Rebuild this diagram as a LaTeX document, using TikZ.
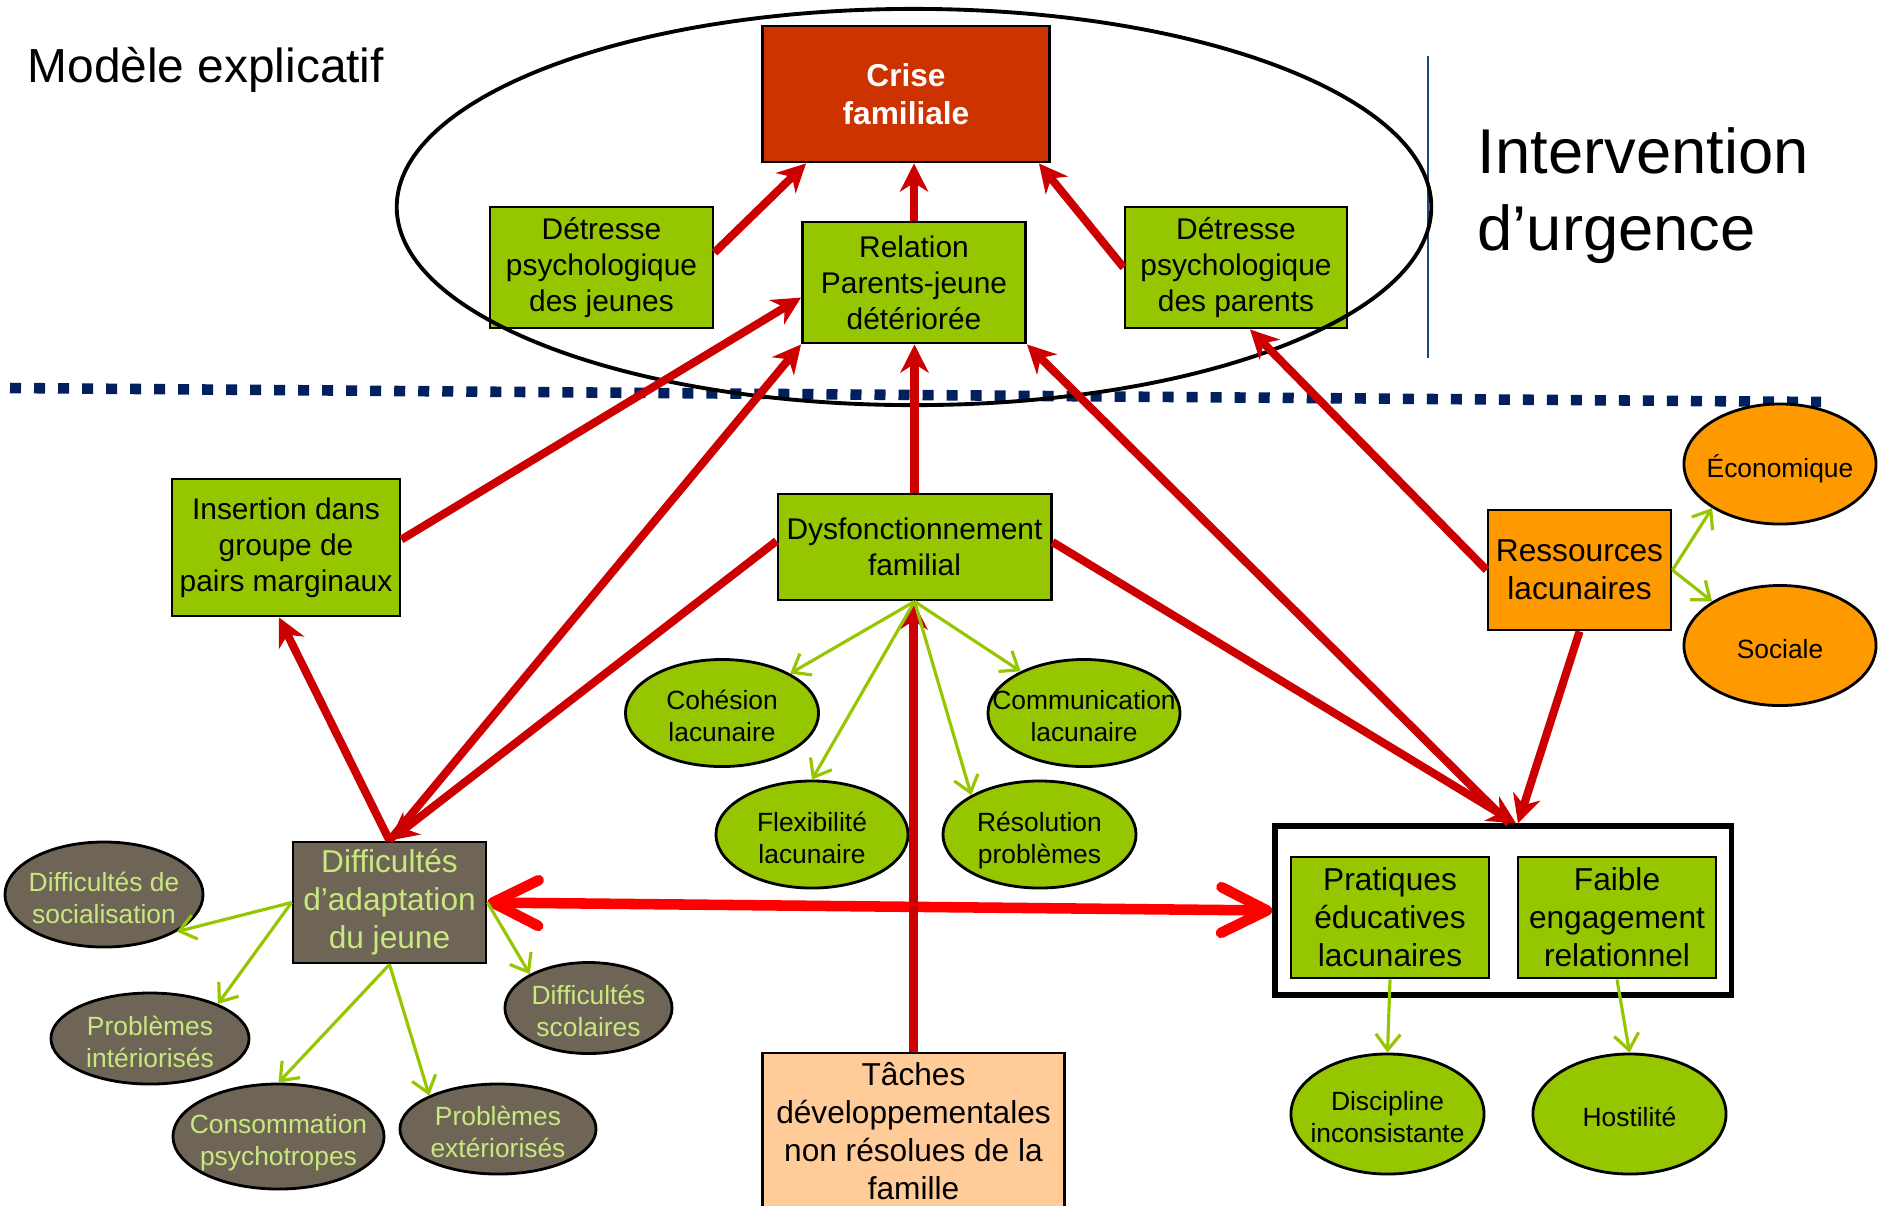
\documentclass[tikz,border=0pt]{standalone}
\usepackage{fontspec}
\setmainfont{Liberation Sans}
\usetikzlibrary{shapes.geometric,arrows.meta}
\definecolor{rouge}{RGB}{204,0,0}
\definecolor{rougevif}{RGB}{255,0,0}
\definecolor{vert}{RGB}{150,198,0}
\definecolor{brique}{RGB}{204,51,0}
\definecolor{taupe}{RGB}{111,101,86}
\definecolor{vertclair}{RGB}{200,232,128}
\definecolor{orangevif}{RGB}{255,153,0}
\definecolor{peche}{RGB}{255,204,153}
\definecolor{marine}{RGB}{0,32,96}
\definecolor{bleu}{RGB}{31,73,125}
\newcommand{\ovale}[1]{\raisebox{-1.8pt}[\height][\depth]{\makebox[0pt]{\begin{tabular}{@{}c@{}}#1\end{tabular}}}}
\tikzset{
	boite/.style={draw, thick, inner sep=0pt, align=center, font=\fontsize{9}{10.8}\selectfont},
	bvert/.style={boite, fill=vert},
	bpetit/.style={bvert, font=\fontsize{8.5}{10.2}\selectfont},
	ovale/.style={ellipse, draw, thick, inner sep=0pt, font=\fontsize{7.5}{9}\selectfont},
	overt/.style={ovale, fill=vert},
	otaupe/.style={ovale, fill=taupe, text=vertclair},
	oorange/.style={ovale, fill=orangevif},
	lien/.style={draw=rouge, line width=2.3pt, -{Stealth[length=8pt,width=8pt,inset=2.5pt]}},
	doublefleche/.style={draw=rougevif, line width=3pt, {Straight Barb[round,length=13pt,width=13pt]}-{Straight Barb[round,length=13pt,width=13pt]}},
	attr/.style={draw=vert, line width=0.9pt, -{Straight Barb[length=4.5pt,width=7pt]}}
}
\begin{document}
\begin{tikzpicture}[x=0.01cm, y=-0.01cm]
	\useasboundingbox (0,0) rectangle (1879,1205);
	\draw [marine, line width=3pt, dash pattern=on 0.11cm off 0.13cm] (10,388) -- (1821,402);
	\draw [bleu, line width=0.8pt] (1428,56) -- (1428,358);
	\node [anchor=base west, inner sep=0pt, font=\fontsize{13.6}{16}\selectfont] (titre) at (27,82) {Modèle explicatif};
	\node [anchor=north west, align=left, inner sep=0pt, font=\fontsize{18}{22}\selectfont] (urgence) at (1477,127) {Intervention\\d’urgence};
	\node [boite, fill=brique, text=white, font=\bfseries\fontsize{9}{10.8}\selectfont, minimum width=2.87cm, minimum height=1.36cm] (cf) at (906,94) {Crise\\familiale};
	\node [bpetit, minimum width=2.23cm, minimum height=1.21cm] (dj) at (601.5,267.5) {Détresse\\psychologique\\des jeunes};
	\node [bpetit, minimum width=2.23cm, minimum height=1.21cm] (rel) at (914,282.5) {Relation\\Parents-jeune\\détériorée};
	\node [bpetit, minimum width=2.22cm, minimum height=1.21cm] (dp) at (1236,267.5) {Détresse\\psychologique\\des parents};
	\node [bpetit, minimum width=2.28cm, minimum height=1.37cm] (ins) at (286,547.5) {Insertion dans\\groupe de\\pairs marginaux};
	\node [bpetit, minimum width=2.73cm, minimum height=1.06cm] (dys) at (914.5,547) {Dysfonctionnement\\familial};
	\node [boite, fill=taupe, text=vertclair, minimum width=1.93cm, minimum height=1.21cm] (dad) at (389.5,902.5) {Difficultés\\d’adaptation\\du jeune};
	\node [boite, fill=peche, minimum width=3.02cm, minimum height=1.56cm] (tac) at (913.5,1131) {Tâches\\développementales\\non résolues de la\\famille};
	\node [boite, fill=orangevif, minimum width=1.83cm, minimum height=1.2cm] (res) at (1579.5,570) {Ressources\\lacunaires};
	\node [draw, line width=1.5pt, minimum width=4.56cm, minimum height=1.69cm] (cadre) at (1503,910.5) {};
	\node [bvert, minimum width=1.98cm, minimum height=1.21cm] (pra) at (1390,917.5) {Pratiques\\éducatives\\lacunaires};
	\node [bvert, minimum width=1.98cm, minimum height=1.21cm] (fai) at (1617,917.5) {Faible\\engagement\\relationnel};
	\node [overt, minimum width=1.93cm, minimum height=1.07cm] (coh) at (722,713) {\ovale{Cohésion\\lacunaire}};
	\node [overt, minimum width=1.92cm, minimum height=1.07cm] (com) at (1084,713) {\ovale{Communication\\lacunaire}};
	\node [overt, minimum width=1.92cm, minimum height=1.07cm] (fle) at (812,834.5) {\ovale{Flexibilité\\lacunaire}};
	\node [overt, minimum width=1.93cm, minimum height=1.07cm] (reso) at (1039.5,834.5) {\ovale{Résolution\\problèmes}};
	\node [otaupe, minimum width=1.98cm, minimum height=1.05cm] (soc) at (104,894.5) {\ovale{Difficultés de\\socialisation}};
	\node [otaupe, minimum width=1.98cm, minimum height=0.91cm] (inter) at (150,1038.5) {\ovale{Problèmes\\intériorisés}};
	\node [otaupe, minimum width=2.11cm, minimum height=1.05cm] (conso) at (278.5,1136.5) {\ovale{Consommation\\psychotropes}};
	\node [otaupe, minimum width=1.96cm, minimum height=0.9cm] (exte) at (498,1129) {\ovale{Problèmes\\extériorisés}};
	\node [otaupe, minimum width=1.67cm, minimum height=0.91cm] (scol) at (588.5,1008) {\ovale{Difficultés\\scolaires}};
	\node [oorange, minimum width=1.92cm, minimum height=1.2cm] (eco) at (1780,464) {\ovale{Économique}};
	\node [oorange, minimum width=1.92cm, minimum height=1.2cm] (soci) at (1780,645.5) {\ovale{Sociale}};
	\node [overt, minimum width=1.93cm, minimum height=1.2cm] (disc) at (1387.5,1114) {\ovale{Discipline\\inconsistante}};
	\node [overt, minimum width=1.93cm, minimum height=1.2cm] (host) at (1629.5,1114) {\ovale{Hostilité}};
	\draw [line width=1.1pt] (914,207) ellipse [x radius=5.17cm, y radius=1.98cm];
	\draw [lien] ([yshift=1.5mm]dj.east) -- ([xshift=4.5mm]cf.south west);
	\draw [lien] (rel.north) -- (rel.north |- cf.south);
	\draw [lien] (dp.west) -- ([xshift=-1.2mm]cf.south east);
	\draw [lien] ([yshift=0.8mm]ins.east) -- ([yshift=-1.5mm]rel.west);
	\draw [lien] (dad.north) -- (rel.south west);
	\draw [lien] ([yshift=0.6mm]dys.west) -- (dad.north);
	\draw [lien] (dad.north) -- ([xshift=-0.7mm]ins.south);
	\draw [lien] (dys.north) -- (dys.north |- rel.south);
	\draw [lien] ([yshift=0.5mm]dys.east) -- ([xshift=1.3mm]cadre.north);
	\draw [lien] ([xshift=0.6mm]cadre.north) -- (rel.south east);
	\draw [lien] (res.west) -- ([xshift=1.4mm]dp.south);
	\draw [lien] (res.south) -- ([xshift=1.5mm]cadre.north);
	\draw [doublefleche] (dad.east) -- (cadre.west);
	\draw [lien] (tac.north) -- (tac.north |- dys.south);
	\draw [attr] (dys.south) -- (coh);
	\draw [attr] (dys.south) -- (fle.north);
	\draw [attr] (dys.south) -- (com);
	\draw [attr] (dys.south) -- (reso.150);
	\draw [attr] (dad.west) -- (soc.-27);
	\draw [attr] (dad.west) -- (inter.27);
	\draw [attr] (dad.south) -- (conso.north);
	\draw [attr] (dad.south) -- (exte.154);
	\draw [attr] (dad.east) -- (scol.150);
	\draw [attr] (res.east) -- (eco.213);
	\draw [attr] (res.east) -- (soci.147);
	\draw [attr] (pra.south) -- (disc.north);
	\draw [attr] (fai.south) -- (host.north);
\end{tikzpicture}
\end{document}
